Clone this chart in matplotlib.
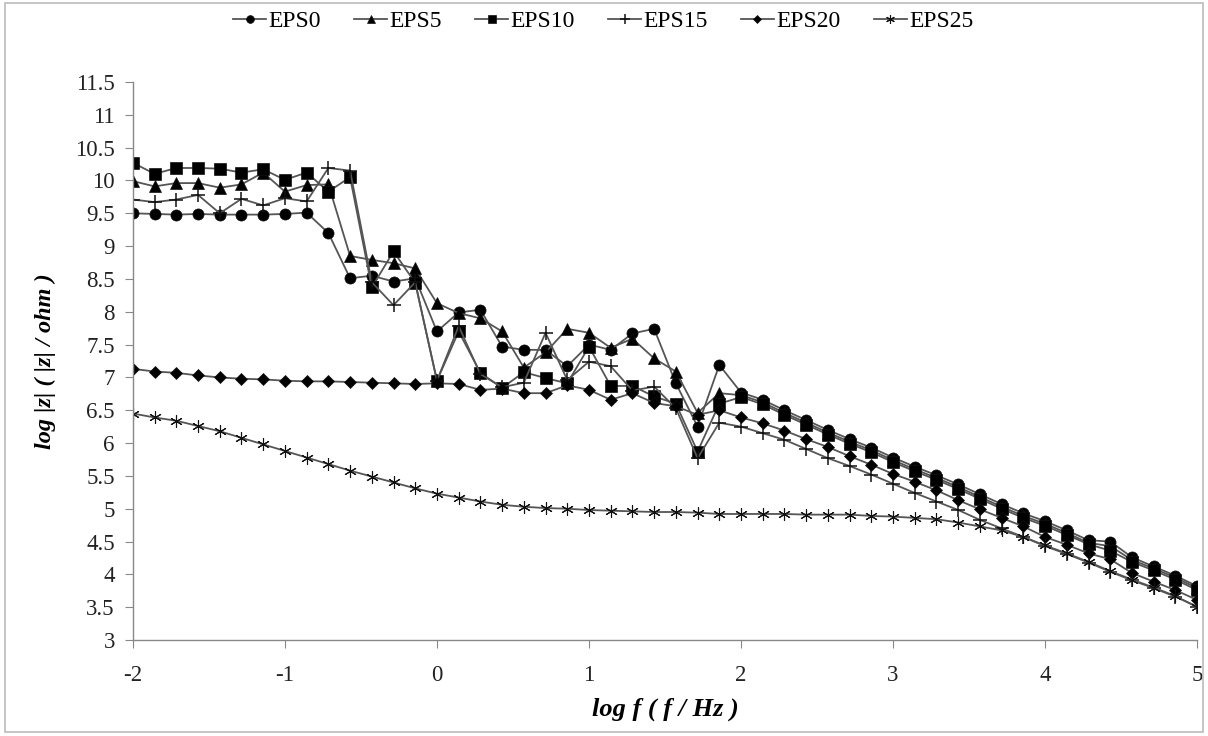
import numpy as np
import matplotlib.pyplot as plt
from matplotlib.patches import Rectangle

# log f grid, 7 points per decade from 0.01 Hz to 100 kHz
log_f = np.linspace(-2, 5, 50)

eps0 = [9.50, 9.49, 9.48, 9.49, 9.48, 9.48, 9.48, 9.49, 9.51,
        9.20, 8.51, 8.55, 8.46, 8.51, 7.70, 7.99, 8.03, 7.47, 7.42, 7.42,
        7.17, 7.50, 7.42, 7.67, 7.74, 6.91, 6.25, 7.19,
        6.77, 6.66, 6.50, 6.35, 6.20, 6.06, 5.93, 5.78, 5.64, 5.51, 5.37,
        5.22, 5.07, 4.93, 4.81, 4.67, 4.52, 4.50, 4.26, 4.12, 3.98, 3.82]
eps5 = [9.99, 9.91, 9.96, 9.96, 9.89, 9.94, 10.12, 9.83, 9.93, 9.94,
        8.85, 8.79, 8.74, 8.66, 8.13, 7.98, 7.90, 7.70, 7.15, 7.38,
        7.74, 7.68, 7.45, 7.59, 7.29, 7.09, 6.46, 6.76,
        6.73, 6.62, 6.46, 6.31, 6.16, 6.02, 5.89, 5.74, 5.60, 5.47, 5.33,
        5.18, 5.03, 4.89, 4.77, 4.63, 4.48, 4.43, 4.22, 4.09, 3.95, 3.79]
eps10 = [10.27, 10.10, 10.19, 10.19, 10.18, 10.12, 10.17, 10.01, 10.12, 9.83, 10.05,
         8.37, 8.92, 8.44, 6.95, 7.70, 7.07, 6.84, 7.08, 6.99, 6.91,
         7.47, 6.87, 6.87, 6.71, 6.60, 5.87, 6.60,
         6.70, 6.59, 6.43, 6.28, 6.13, 5.99, 5.86, 5.71, 5.57, 5.44, 5.30,
         5.15, 5.00, 4.86, 4.74, 4.60, 4.46, 4.36, 4.19, 4.06, 3.92, 3.76]
eps15 = [9.71, 9.67, 9.71, 9.78, 9.50, 9.72, 9.62, 9.73, 9.68, 10.19, 10.15,
         8.45, 8.10, 8.45, 6.95, 7.78, 7.05, 6.85, 6.92, 7.68, 6.96,
         7.24, 7.17, 6.80, 6.86, 6.53, 5.77, 6.31,
         6.25, 6.15, 6.05, 5.91, 5.77, 5.65, 5.52, 5.38, 5.24, 5.11, 4.98,
         4.83, 4.70, 4.57, 4.43, 4.31, 4.18, 4.04, 3.91, 3.79, 3.66, 3.51]
eps20 = [7.13, 7.09, 7.07, 7.03, 7.00, 6.98, 6.97, 6.95, 6.94, 6.94,
         6.93, 6.92, 6.91, 6.90, 6.91, 6.90,
         6.81, 6.83, 6.76, 6.76, 6.88, 6.81, 6.66, 6.76, 6.61, 6.56, 6.43, 6.50,
         6.39, 6.30, 6.19, 6.06, 5.94, 5.80, 5.67, 5.53, 5.41, 5.28, 5.13,
         4.99, 4.86, 4.73, 4.57, 4.45, 4.32, 4.23, 4.02, 3.89, 3.76, 3.61]
eps25 = [6.45, 6.39, 6.34, 6.26, 6.18, 6.08, 5.98, 5.88, 5.78, 5.68,
         5.58, 5.49, 5.40, 5.31, 5.23, 5.17, 5.11, 5.06,
         5.03, 5.01, 5.00, 4.98, 4.97, 4.96, 4.95, 4.95, 4.94,
         4.92, 4.92, 4.92, 4.92, 4.91, 4.91, 4.91, 4.89, 4.88, 4.86, 4.84,
         4.79, 4.73, 4.67, 4.57, 4.44, 4.32, 4.19, 4.05, 3.92, 3.80, 3.67, 3.50]

names = ['EPS0', 'EPS5', 'EPS10', 'EPS15', 'EPS20', 'EPS25']
series = [eps0, eps5, eps10, eps15, eps20, eps25]
markers = ['o', '^', 's', '+', 'D', (6, 2, 0)]
msizes = [8, 8, 8, 10, 6, 9]
mews = [0.5, 0.5, 0.5, 1.1, 0.5, 0.8]

plt.rcParams['font.family'] = ['Liberation Serif', 'DejaVu Serif']
plt.rcParams['axes.unicode_minus'] = False

fig = plt.figure(figsize=(12.08, 7.36), dpi=100)
ax = fig.add_axes([0.110, 0.1304, 0.881, 0.7582])

for name, y, m, ms, mew in zip(names, series, markers, msizes, mews):
    ax.plot(log_f, y, color='#555555', lw=1.3, marker=m, markersize=ms,
            markerfacecolor='black', markeredgecolor='#111111',
            markeredgewidth=mew, label=name)

ax.set_xlim(-2, 5)
ax.set_ylim(3, 11.5)
ax.set_xticks(np.arange(-2, 6, 1))
ax.set_yticks(np.arange(3, 11.51, 0.5))
ax.yaxis.set_major_formatter(plt.FormatStrFormatter('%g'))
ax.tick_params(direction='out', length=6, color='#888888', labelsize=16.5,
               labelcolor='#222222')
ax.tick_params(axis='x', pad=12)
ax.tick_params(axis='y', pad=7)
for s in ['top', 'right']:
    ax.spines[s].set_visible(False)
for s in ['left', 'bottom']:
    ax.spines[s].set_color('#888888')
    ax.spines[s].set_linewidth(1.0)

ax.set_xlabel('log f ( f / Hz )', fontsize=19, fontweight='bold',
              fontstyle='italic', labelpad=8)
ax.set_ylabel('log |z| ( |z| / ohm )', fontsize=17.5, fontweight='bold',
              fontstyle='italic', labelpad=14)

leg = ax.legend(loc='center', bbox_to_anchor=(0.442, 1.108), ncol=6,
                frameon=False, fontsize=17, handlelength=1.4,
                handletextpad=0.1, columnspacing=1.4, markerscale=0.7)

fig.patches.append(Rectangle((0.004, 0.005), 0.992, 0.991, transform=fig.transFigure,
                             fill=False, edgecolor='#bbbbbb', lw=1.2))

fig.savefig('out.png', dpi=100, facecolor='white')
